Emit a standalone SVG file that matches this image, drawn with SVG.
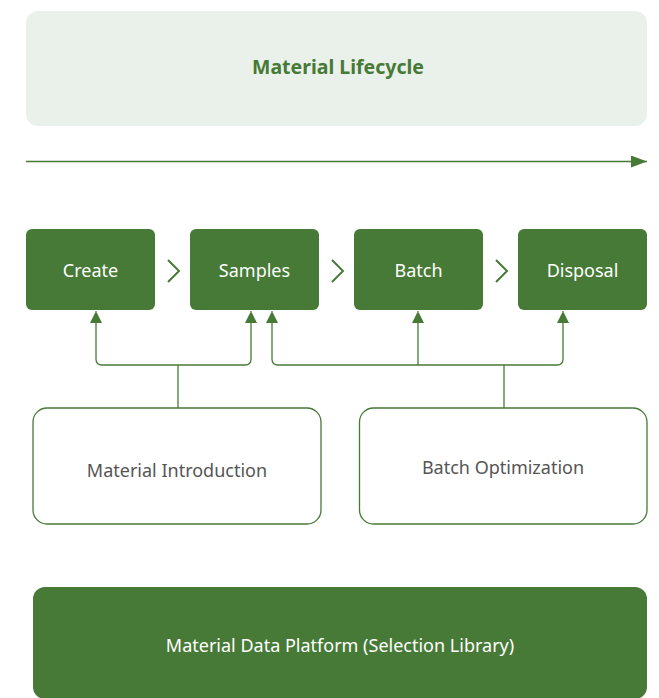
<svg xmlns="http://www.w3.org/2000/svg" width="659" height="698" viewBox="0 0 659 698">
<style>
.step{fill:#467a36}
.stepT{fill:#ffffff;font-family:"Noto Sans",sans-serif;font-size:18px;text-anchor:middle;dominant-baseline:central}
.box{fill:#ffffff;stroke:#467a36;stroke-width:1.3}
.boxT{fill:#555555;font-family:"Noto Sans",sans-serif;font-size:18px;text-anchor:middle;dominant-baseline:central}
.conn{fill:none;stroke:#467a36;stroke-width:1.3}
.chev{fill:none;stroke:#467a36;stroke-width:2}
</style>
<defs>
<marker id="ah" viewBox="0 0 10 12" refX="12" refY="6" markerWidth="10" markerHeight="12" markerUnits="userSpaceOnUse" orient="auto">
<path d="M0,0 L12,6 L0,12 z" fill="#467a36"/>
</marker>
<marker id="ahBig" viewBox="0 0 16 12" refX="16" refY="6" markerWidth="16" markerHeight="12" markerUnits="userSpaceOnUse" orient="auto">
<path d="M0,0 L16,6 L0,12 z" fill="#467a36"/>
</marker>
</defs>
<rect width="659" height="698" fill="#ffffff"/>
<g id="lifecycle">
<rect x="26" y="11" width="621" height="115" rx="12" fill="#eaf0ea"/>
<text x="338" y="66" fill="#467a36" font-family="Noto Sans,sans-serif" font-size="19.5" font-weight="bold" text-anchor="middle" dominant-baseline="central">Material Lifecycle</text>
</g>
<g id="timeline">
<line x1="26" y1="161.5" x2="647" y2="161.5" stroke="#467a36" stroke-width="1.3" marker-end="url(#ahBig)"/>
</g>
<g id="create"><rect class="step" x="26" y="229" width="129" height="81" rx="6"/><text class="stepT" x="90.5" y="269.5">Create</text></g>
<g id="samples"><rect class="step" x="190" y="229" width="129" height="81" rx="6"/><text class="stepT" x="254.5" y="269.5">Samples</text></g>
<g id="batch"><rect class="step" x="354" y="229" width="129" height="81" rx="6"/><text class="stepT" x="418.5" y="269.5">Batch</text></g>
<g id="disposal"><rect class="step" x="518" y="229" width="129" height="81" rx="6"/><text class="stepT" x="582.5" y="269.5">Disposal</text></g>
<g id="chevrons">
<path class="chev" d="M168,260 L179,271 L168,282"/>
<path class="chev" d="M332,260 L343,271 L332,282"/>
<path class="chev" d="M496,260 L507,271 L496,282"/>
</g>
<g id="intro"><rect class="box" x="33" y="408" width="288" height="116" rx="14"/><text class="boxT" x="177" y="470">Material Introduction</text></g>
<g id="batchopt"><rect class="box" x="359.5" y="408" width="287.5" height="116" rx="14"/><text class="boxT" x="503" y="467">Batch Optimization</text></g>
<g id="platform"><rect class="step" x="33" y="587" width="614" height="112" rx="12"/><text class="stepT" x="340" y="645" font-size="19.5">Material Data Platform (Selection Library)</text></g>
<g id="connectors">
<path class="conn" d="M178,408 V365"/>
<path class="conn" d="M178,365 H102 Q96,365 96,359 V311" marker-end="url(#ah)"/>
<path class="conn" d="M178,365 H245 Q251,365 251,359 V311" marker-end="url(#ah)"/>
<path class="conn" d="M504,408 V365"/>
<path class="conn" d="M504,365 H278 Q272,365 272,359 V311" marker-end="url(#ah)"/>
<path class="conn" d="M418,365 V311" marker-end="url(#ah)"/>
<path class="conn" d="M504,365 H557 Q563,365 563,359 V311" marker-end="url(#ah)"/>
</g>
</svg>
